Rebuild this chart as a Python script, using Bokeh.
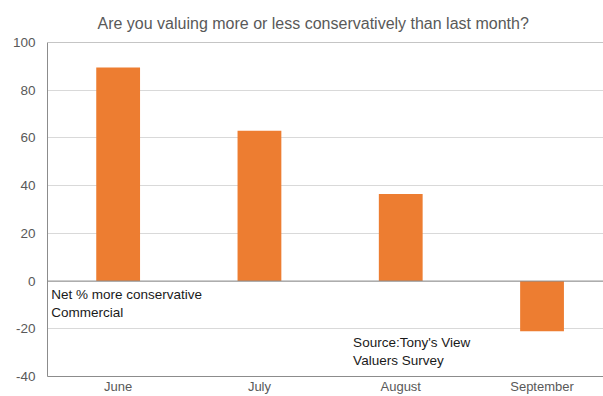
from bokeh.plotting import figure
from bokeh.models import Range1d, FixedTicker, Span, Label
from bokeh.embed import file_html
from bokeh.resources import INLINE

months = ["June", "July", "August", "September"]
net_pct = [89.5, 63, 36.5, -21]
y_ticks = [-40, -20, 0, 20, 40, 60, 80, 100]

FONT = "Liberation Sans"
GRAY_TXT = "#595959"
AXIS_GRAY = "#8c8c8c"
ORANGE = "#ED7D31"

xs = list(range(len(months)))

p = figure(width=603, height=396, output_backend="svg", toolbar_location=None,
           x_range=Range1d(-0.5, 3.435), y_range=Range1d(-40, 100),
           min_border_left=47, min_border_right=0, min_border_top=42, min_border_bottom=17)

p.title.text = "Are you valuing more or less conservatively than last month?"
p.title.text_font = FONT
p.title.text_font_size = "16px"
p.title.text_font_style = "normal"
p.title.text_color = GRAY_TXT
p.title.align = "left"
p.title.offset = 50
p.title.standoff = 21

p.outline_line_color = None
p.background_fill_color = "white"
p.border_fill_color = "white"

p.vbar(x=xs, top=net_pct, width=0.31, color=ORANGE, line_color=None)

# y axis
p.yaxis.ticker = FixedTicker(ticks=y_ticks)
p.yaxis.major_tick_line_color = None
p.yaxis.minor_tick_line_color = None
p.yaxis.major_tick_out = 0
p.yaxis.major_tick_in = 0
p.yaxis.major_label_standoff = 12
p.yaxis.major_label_overrides = {t: str(t) for t in y_ticks}
p.yaxis.major_label_text_font = FONT
p.yaxis.major_label_text_font_size = "13.5px"
p.yaxis.major_label_text_color = GRAY_TXT
p.yaxis.axis_line_color = AXIS_GRAY

# x axis
p.xaxis.ticker = FixedTicker(ticks=xs)
p.xaxis.major_label_overrides = {i: m for i, m in enumerate(months)}
p.xaxis.major_label_standoff = 2
p.xaxis.major_label_text_font = FONT
p.xaxis.major_label_text_font_size = "13px"
p.xaxis.major_label_text_color = GRAY_TXT
p.xaxis.major_tick_out = 0
p.xaxis.major_tick_in = 0
p.xaxis.major_tick_line_color = None
p.xaxis.minor_tick_line_color = None
p.xaxis.axis_line_color = AXIS_GRAY

p.xgrid.grid_line_color = None
p.ygrid.grid_line_color = "#d9d9d9"

p.add_layout(Span(location=100, dimension="width", line_color=AXIS_GRAY, line_width=1))
p.add_layout(Span(location=0, dimension="width", line_color=AXIS_GRAY, line_width=1))

p.add_layout(Label(x=-0.474, y=-2.5, text="Net % more conservative\nCommercial",
                   text_baseline="top", text_align="left", text_font=FONT,
                   text_font_size="13.5px", text_color="#1a1a1a"))
p.add_layout(Label(x=1.663, y=-22.5, text="Source:Tony's View\nValuers Survey",
                   text_baseline="top", text_align="left", text_font=FONT,
                   text_font_size="13.5px", text_color="#1a1a1a"))

open("out.html", "w").write(file_html(p, INLINE))
